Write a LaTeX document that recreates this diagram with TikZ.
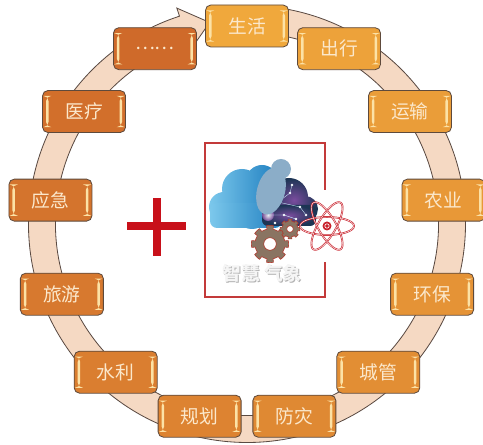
\documentclass[tikz,border=0pt]{standalone}
\usepackage{fontspec}
\usepackage{xcolor}
\usepackage{tikz}
\newfontfamily\cjk{Noto Sans CJK SC}

\definecolor{ringfill}{HTML}{F5D9C3}
\definecolor{ringline}{HTML}{5A4A42}
\definecolor{boxA}{HTML}{F0A83C}
\definecolor{boxB}{HTML}{CF6A2A}
\definecolor{boxline}{HTML}{5E4A3C}
\definecolor{barcol}{HTML}{FCE2A6}
\definecolor{boxtext}{HTML}{FBE8CC}
\definecolor{framered}{HTML}{C33A3A}
\definecolor{plusred}{HTML}{C8101A}
\definecolor{cloudA}{HTML}{7CC8EC}
\definecolor{cloudB}{HTML}{1F7FC0}
\definecolor{figcol}{HTML}{8BADC8}
\definecolor{darkA}{HTML}{7A4C9E}
\definecolor{darkB}{HTML}{1C3554}
\definecolor{gearfill}{HTML}{8A7462}
\definecolor{gearline}{HTML}{B03A2E}
\definecolor{atomred}{HTML}{C8202A}

% one cog wheel: centre x, centre y, radius, teeth
\newcommand{\cog}[4]{%
  \filldraw[gear, even odd rule, shift={(#1,#2)}]
    plot[domain=0:360, samples=241] (\x:{#3+0.24*#3*(cos(#4*\x)>0)}) -- cycle
    (0,0) circle ({0.42*#3});}

\begin{document}
\begin{tikzpicture}[
  x=0.3mm, y=0.3mm,
  ring/.style={fill=ringfill, draw=ringline, line width=0.7pt},
  tag/.style={
    draw=boxline,
    line width=0.7pt,
    rounded corners=1.6mm,
    minimum width=24.9mm,
    minimum height=12.6mm,
    inner sep=0pt,
    text=boxtext,
    font=\cjk\fontsize{16}{16}\selectfont,
    path picture={
      \fill[barcol] ([xshift=1.05mm,yshift=1.6mm]path picture bounding box.south west)
        rectangle ([xshift=1.8mm,yshift=-1.6mm]path picture bounding box.north west);
      \fill[barcol] ([xshift=-1.05mm,yshift=1.6mm]path picture bounding box.south east)
        rectangle ([xshift=-1.8mm,yshift=-1.6mm]path picture bounding box.north east);
    }
  },
  frame/.style={draw=framered, line width=1.3pt},
  gear/.style={fill=gearfill, draw=gearline, line width=0.5pt},
  orbit/.style={draw=atomred, line width=1.5pt},
  logo/.style={font=\cjk\bfseries\fontsize{16}{16}\selectfont, inner sep=0pt}
]
\useasboundingbox (0,0) rectangle (483,445);

% Ring with arrow head
\begin{scope}[shift={(247,221)}]
\filldraw[ring] (85:218.5) arc[start angle=85, end angle=-252, radius=218.5]
  -- (108:227) -- (100.5:205) -- (108:183) -- (108:191.5)
  arc[start angle=-252, end angle=85, radius=191.5] -- cycle;

% Boxes round the ring
\foreach \lbl [count=\i] in {生活,出行,运输,农业,环保,城管,防灾,规划,水利,旅游,应急,医疗,……}{
  \pgfmathtruncatemacro\pct{100-(\i-1)*100/12}
  \node[tag, fill=boxA!\pct!boxB] (item\i) at ({90-(\i-1)*360/13}:198) {\lbl};
}
\end{scope}

% Plus sign
\fill[plusred] (127,215) rectangle (186,223);
\fill[plusred] (153,189) rectangle (161,247);

% Frame round the logo
\draw[frame] (325,255) -- (325,302) -- (205,302) -- (205,148) -- (325,148) -- (325,183);

% Light cloud
\shade[left color=cloudA, right color=cloudB]
  (224,238) circle (15) (242,256) circle (20) (262,264) circle (16)
  (252,234) circle (18);
\shade[left color=cloudA, right color=cloudB, rounded corners=6] (210,217) rectangle (282,242);

% Dark cloud
\shade[inner color=darkA, outer color=darkB]
  (289,248) circle (19) (305,236) circle (13);
\shade[inner color=darkA, outer color=darkB, rounded corners=5] (262,219) rectangle (316,240);
\shade[inner color=white, outer color=darkA, opacity=0.9] (268,230) circle (6);
\foreach \p in {(278,243),(290,252),(300,238),(284,230),(296,226),(306,230),(275,222),(292,260)}
  \fill[white] \p circle (1.3);
\draw[white!80!cyan, line width=0.3pt] (268,230) -- (278,243) -- (290,252) -- (292,260)
  (278,243) -- (300,238) -- (306,230) (268,230) -- (284,230) -- (296,226);

% Figure in front of the clouds
\fill[figcol] (271,254) ellipse[x radius=14, y radius=24, rotate=-15];
\fill[figcol] (281,276) circle (10);

% Cog wheels
\cog{270}{201}{15}{8}
\cog{290}{216}{8}{8}

% Atom
\begin{scope}[shift={(327,219)}]
\foreach \a in {0,60,120}{
  \draw[orbit] (0,0) ellipse[x radius=27, y radius=9, rotate=\a];
  \draw[white, line width=0.4pt] (0,0) ellipse[x radius=27, y radius=9, rotate=\a];
}
\fill[atomred] (0,0) circle (4.5);
\draw[white, line width=0.5pt] (0,0) circle (2.2);
\end{scope}

% Logo caption
\node[logo, text=gray!60] (capshadow) at (263,171) {智慧 气象};
\node[logo, text=gray!8] (caption) at (262,172) {智慧 气象};

\end{tikzpicture}
\end{document}
